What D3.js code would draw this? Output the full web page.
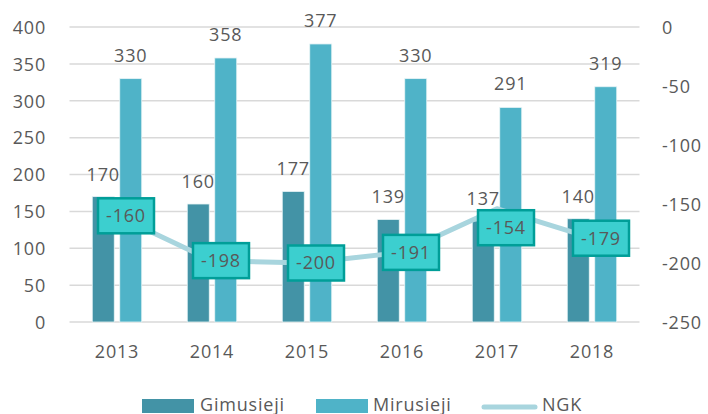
<!DOCTYPE html>
<html><head><meta charset="utf-8">
<script src="https://cdn.jsdelivr.net/npm/d3@7"></script>
<style>body{margin:0;background:#fff}svg{display:block}text{font-family:"Open Sans",sans-serif;fill:#595959}</style>
</head><body><svg id="c" width="708" height="414"></svg>
<script>
const years = ["2013","2014","2015","2016","2017","2018"];
const gimusieji = [170,160,177,139,137,140];
const mirusieji = [330,358,377,330,291,319];
const ngk = [-160,-198,-200,-191,-154,-179];
const leftTicks = [0,50,100,150,200,250,300,350,400];
const rightTicks = [0,-50,-100,-150,-200,-250];

const svg = d3.select("#c");
const L=69.5, R=639.5, T=27, B=322;
const x = d3.scaleBand().domain(years).range([L,R]);
const yL = d3.scaleLinear().domain([0,400]).range([B,T]);
const yR = d3.scaleLinear().domain([-250,0]).range([B,T]);
const fs = 18;
const fmt = d => String(d);

// gridlines
svg.append("g").selectAll("line").data(leftTicks).join("line")
  .attr("x1",L).attr("x2",R).attr("y1",d=>yL(d)).attr("y2",d=>yL(d))
  .attr("stroke","#d9d9d9").attr("stroke-width",1.5);

// left axis
const gl = svg.append("g").attr("transform",`translate(46,0)`)
  .call(d3.axisLeft(yL).tickValues(leftTicks).tickFormat(fmt).tickSize(0).tickPadding(0));
gl.select(".domain").remove();
gl.selectAll("text").attr("font-size",fs).attr("font-family","Open Sans").attr("fill","#595959").attr("letter-spacing","0.8").attr("dy","0.35em");

// right axis
const gr = svg.append("g").attr("transform",`translate(662,0)`)
  .call(d3.axisRight(yR).tickValues(rightTicks).tickFormat(fmt).tickSize(0).tickPadding(0));
gr.select(".domain").remove();
gr.selectAll("text").attr("font-size",fs).attr("font-family","Open Sans").attr("fill","#595959").attr("letter-spacing","0.8").attr("dy","0.35em");

// x axis
const gx = svg.append("g").attr("transform",`translate(0,${B})`)
  .call(d3.axisBottom(x).tickSize(0).tickPadding(0));
gx.select(".domain").remove();
gx.selectAll("text").attr("font-size",fs).attr("font-family","Open Sans").attr("fill","#595959").attr("letter-spacing","0.8").attr("y",36).attr("dy","0");

const bw = 22, gap = 5.5;
const cx = d => x(d) + x.bandwidth()/2;
const barG = svg.append("g");
barG.selectAll("rect.g").data(years).join("rect")
  .attr("x",(d)=>cx(d)-gap/2-bw).attr("width",bw)
  .attr("y",(d,i)=>yL(gimusieji[i])).attr("height",(d,i)=>B-yL(gimusieji[i]))
  .attr("fill","#4393a6").attr("stroke","#e8f4f6").attr("stroke-width",0.8);
barG.selectAll("rect.m").data(years).join("rect")
  .attr("x",(d)=>cx(d)+gap/2).attr("width",bw)
  .attr("y",(d,i)=>yL(mirusieji[i])).attr("height",(d,i)=>B-yL(mirusieji[i]))
  .attr("fill","#4fb3c8").attr("stroke","#e8f4f6").attr("stroke-width",0.8);

// bar labels
const lab = svg.append("g").attr("font-size",fs).attr("text-anchor","middle").attr("letter-spacing","0.8");
lab.selectAll("text.g").data(years).join("text")
  .attr("x",d=>cx(d)-gap/2-bw/2).attr("y",(d,i)=>yL(gimusieji[i])-16)
  .text((d,i)=>gimusieji[i]);
lab.selectAll("text.m").data(years).join("text")
  .attr("x",d=>cx(d)+gap/2+bw/2).attr("y",(d,i)=>yL(mirusieji[i])-17)
  .text((d,i)=>mirusieji[i]);

// line
const line = d3.line().x((d,i)=>cx(years[i])).y(d=>yR(d));
svg.append("path").datum(ngk).attr("d",line).attr("fill","none")
  .attr("stroke","#a8d5de").attr("stroke-width",5).attr("stroke-linejoin","round");

// line labels (the 2017 label sits below its point, as in the original)
const bwid=56, bh=35;
const lg = svg.append("g");
ngk.forEach((v,i)=>{
  let c = cx(years[i]) + 9;
  if (c + bwid/2 > R - 1) c = R - 1 - bwid/2;
  const cy = yR(v) + (years[i] === "2017" ? 19 : 0);
  lg.append("rect").attr("x",c-bwid/2).attr("y",cy-bh/2).attr("width",bwid).attr("height",bh)
    .attr("fill","#3ccfcf").attr("stroke","#009e98").attr("stroke-width",2.5);
  lg.append("text").attr("x",c).attr("y",cy).attr("dy","0.35em").attr("text-anchor","middle")
    .attr("font-size",fs).attr("letter-spacing","0.8").attr("fill","#404040").text(fmt(v));
});

// legend
const leg = svg.append("g");
leg.append("rect").attr("x",142).attr("y",399).attr("width",52).attr("height",14).attr("fill","#4393a6");
leg.append("text").attr("x",200).attr("y",411).attr("font-size",fs).attr("letter-spacing","0.8").text("Gimusieji");
leg.append("rect").attr("x",316).attr("y",399).attr("width",52).attr("height",14).attr("fill","#4fb3c8");
leg.append("text").attr("x",373).attr("y",411).attr("font-size",fs).attr("letter-spacing","0.8").text("Mirusieji");
leg.append("line").attr("x1",484).attr("x2",535).attr("y1",407).attr("y2",407).attr("stroke","#a8d5de").attr("stroke-width",5).attr("stroke-linecap","round");
leg.append("text").attr("x",542).attr("y",411).attr("font-size",fs).attr("letter-spacing","0.8").text("NGK");
</script></body></html>
